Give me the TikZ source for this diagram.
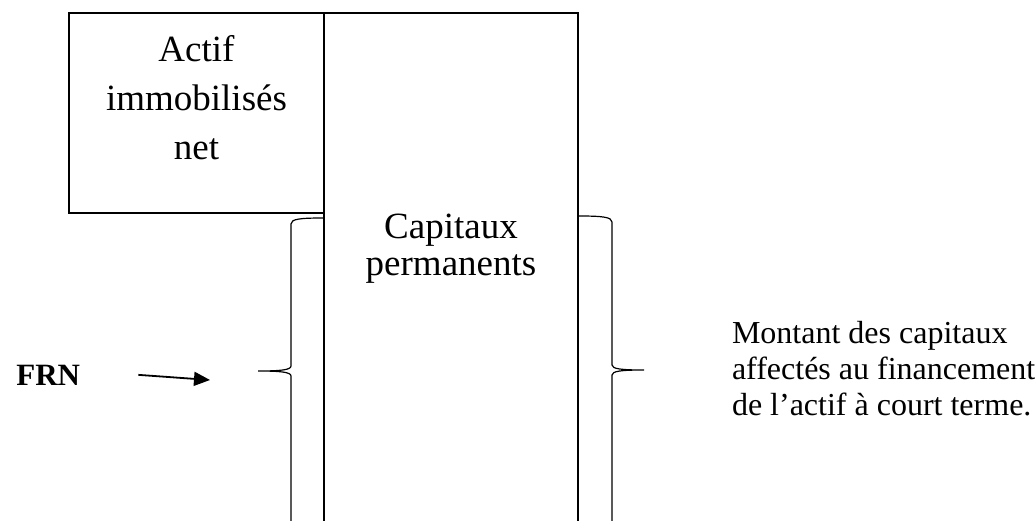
\documentclass[tikz,border=0pt]{standalone}
\usepackage{fontspec}
\setmainfont{Liberation Serif}
\usetikzlibrary{arrows.meta,positioning}

\begin{document}
\begin{tikzpicture}[
    x = 1pt, y = -1pt, % pixel units, y going down
    >= {Triangle[length=16pt,width=14pt]}, % arrow head style
    line width = 2pt
    ]

    \tikzset{
    box/.style = {draw = black, line width = 2pt, inner sep = 0pt, outer sep = 0pt, anchor = north west},
    bigtext/.style = {font = \fontsize{37}{49}\selectfont, align = center},
    smalltext/.style = {font = \fontsize{32}{36}\selectfont, align = left, inner sep = 0pt},
    bracepath/.style = {line width = 1.2pt}
    }
    \useasboundingbox (0,0) rectangle (1036,520);

    \node[box, minimum width = 255pt, minimum height = 200pt] (actif) at (69,13) {};
    \node[box, minimum width = 254pt, minimum height = 540pt] (capitaux) at (actif.north east) {};
    \node[bigtext] (actiftxt) at (196.5,98) {Actif\\immobilisés\\net};
    \node[bigtext, font = \fontsize{37}{37}\selectfont] (captxt) at (451,248.5) {Capitaux\\permanents};

    % braces
    \coordinate (ltip) at (258,371);
    \coordinate (rtip) at (644,370);
    \draw[bracepath] (323,218) .. controls (300,218) and (291,219) .. (291,224) -- (291,366)
        .. controls (291,370) and (280,371) .. (ltip) .. controls (280,371) and (291,372) .. (291,376) -- (291,530);
    \draw[bracepath] (579,216) .. controls (602,216) and (612,217) .. (612,222) -- (612,365)
        .. controls (612,369) and (622,370) .. (rtip) .. controls (622,370) and (612,371) .. (612,375) -- (612,530);

    \node[font = \fontsize{31}{31}\selectfont\bfseries, anchor = base west] (frn) at (12,385) {FRN};
    \draw[->, line width = 1.8pt] ([xshift=54pt]frn.east) -- ([xshift=-48pt,yshift=-9pt]ltip);

    \node[smalltext, anchor = north west] (montant) at (731,320)
        {Montant des capitaux\\affectés au financement\\de l’actif à court terme.};
\end{tikzpicture}
\end{document}
